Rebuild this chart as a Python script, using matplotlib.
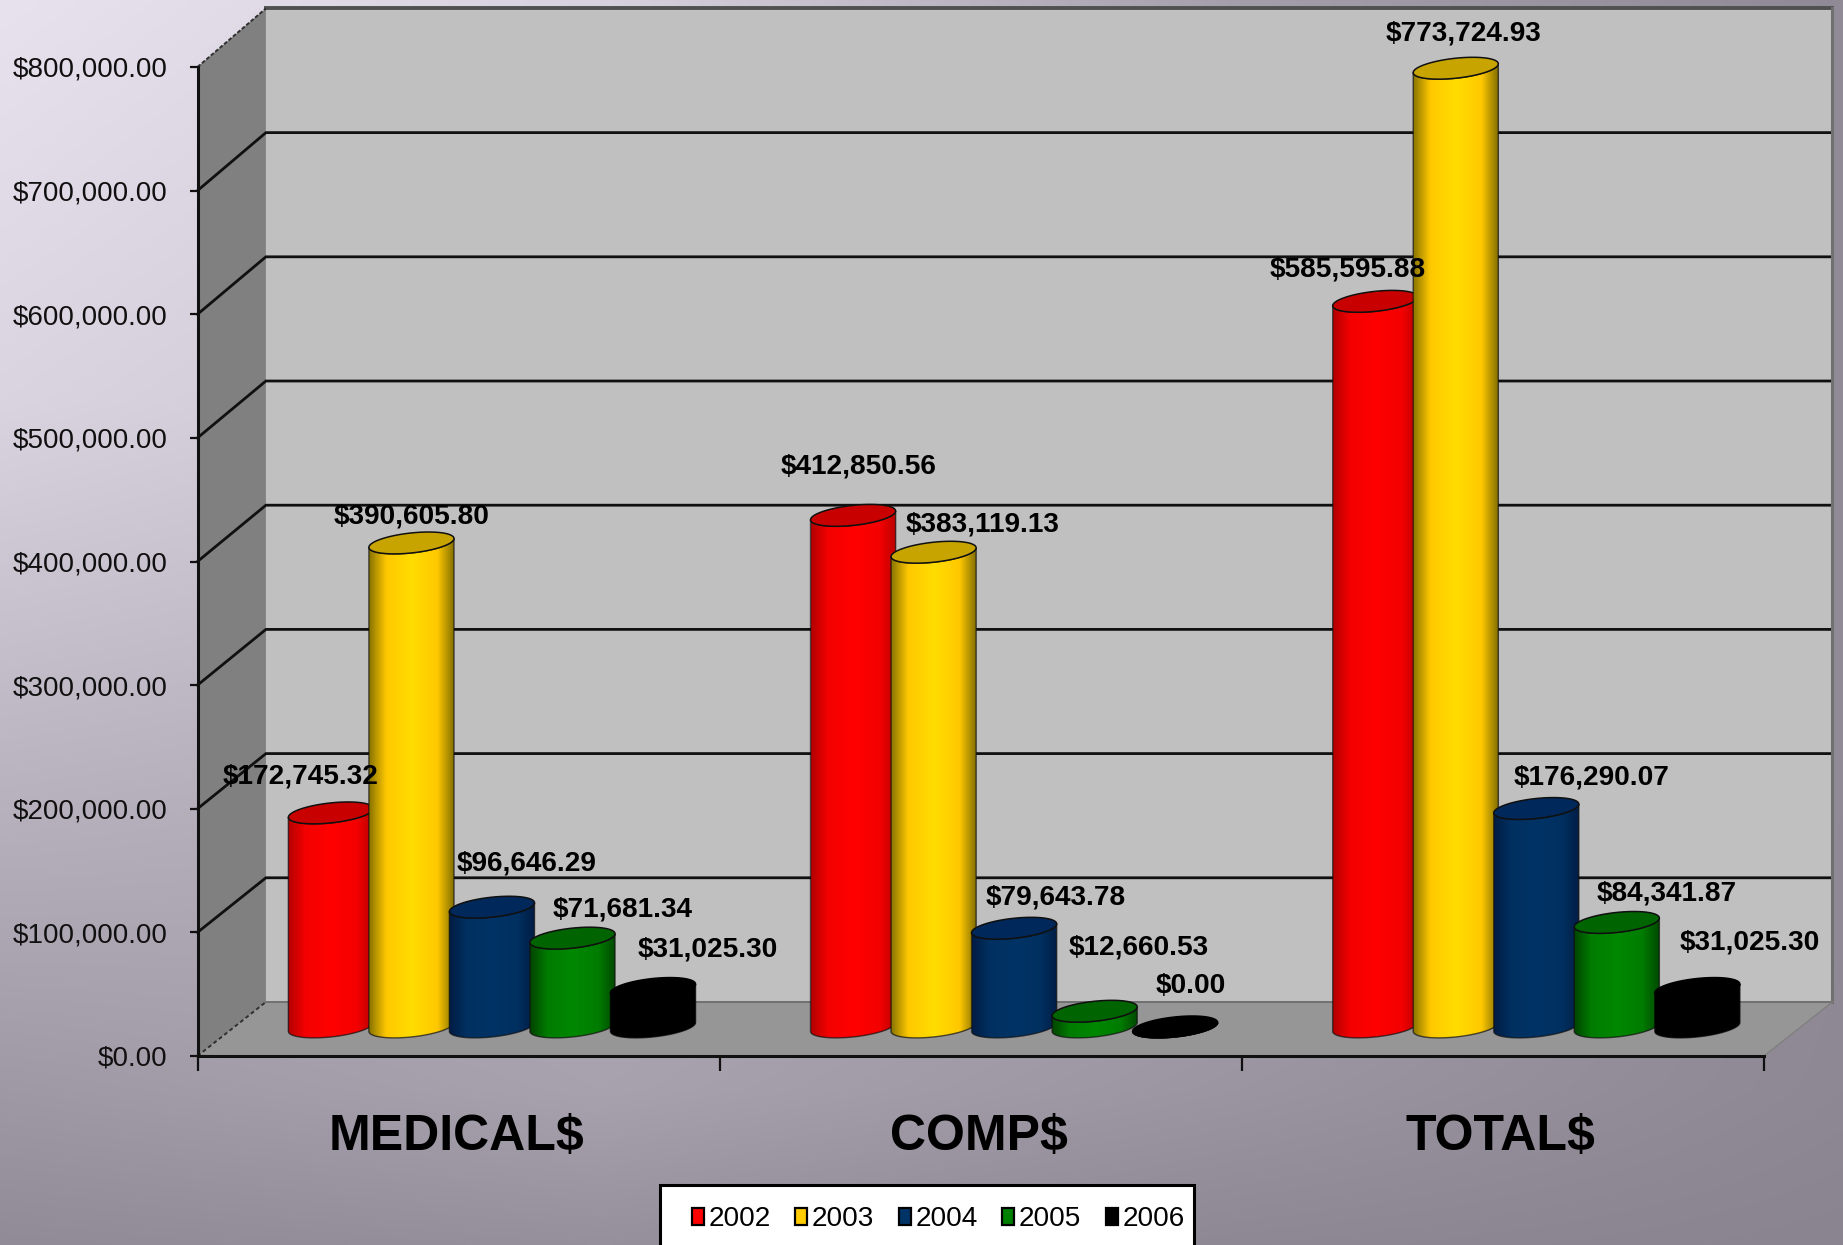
import numpy as np
import matplotlib
matplotlib.use('Agg')
import matplotlib.pyplot as plt
from matplotlib.colors import LinearSegmentedColormap
from matplotlib.patches import Polygon, Rectangle

plt.rcParams['font.family'] = ['Liberation Sans', 'DejaVu Sans']

categories = ['MEDICAL$', 'COMP$', 'TOTAL$']
years = ['2002', '2003', '2004', '2005', '2006']
medical = [172745.32, 390605.80, 96646.29, 71681.34, 31025.30]
comp = [412850.56, 383119.13, 79643.78, 12660.53, 0.00]
total = [585595.88, 773724.93, 176290.07, 84341.87, 31025.30]
yticks = [0, 100000, 200000, 300000, 400000, 500000, 600000, 700000, 800000]

# label shift from the top of each cylinder, in pixels
label_dx = [[-30, 0, 35, 50, 55], [5, 49, 42, 44, 16], [-28, 8, 55, 50, 52]]
label_dy = [[66, 57, 73, 58, 68], [79, 58, 60, 93, 70], [63, 66, 61, 58, 75]]

# (edge, base, bright, right edge, lid)
colors = [('#b40000', '#f40000', '#ff0000', '#b80000', '#c80000'),
          ('#8a7400', '#ffc800', '#ffdd00', '#7f6c00', '#c8a400'),
          ('#001c44', '#003060', '#003366', '#001c44', '#00285a'),
          ('#004400', '#007c00', '#008800', '#004800', '#006400'),
          ('#000000', '#000000', '#000000', '#000000', '#000000')]
legend_colors = ['#ff0000', '#ffcc00', '#003366', '#008000', '#000000']

W, H = 1843, 1245
YMAX = 800000
DEPTH_X = 0.131
DEPTH_Y = 43700.0
BACK_SCALE = 1.0046
FIRST_BAR = 0.174
BAR_STEP = 0.1542
BAR_W = 0.163
ELL_B = 8100.0
ELL_K = 3560.0
MID_Y = 23500.0

# backdrop brightness (red channel) on a coarse grid
BG_X = [0, 600, 1240, 1843]
BG_Y = [0, 400, 800, 1090, 1245]
BG_R = np.array([[232, 216, 164, 144],
                 [218, 204, 170, 144],
                 [184, 176, 168, 144],
                 [159, 168, 155, 142],
                 [145, 150, 142, 138]], dtype=float)


def back(v):
    return v * BACK_SCALE + DEPTH_Y


def ellipse_points(cx, cy, a, t):
    return cx + a * np.cos(t), cy + ELL_B * np.sin(t) + ELL_K * np.cos(t)


def cylinder(ax, left, value, cols, z):
    a = BAR_W / 2
    cx = left + a
    y0 = MID_Y
    y1 = value * (1 + (BACK_SCALE - 1) / 2) + MID_Y
    line = cols[0] if cols[0] == '#000000' else '#101010'
    # side of the cylinder
    t = np.linspace(0, -np.pi, 50)
    xb, yb = ellipse_points(cx, y0, a, t)
    xt, yt = ellipse_points(cx, y1, a, t[::-1])
    verts = np.column_stack([np.r_[xb, xt], np.r_[yb, yt]])
    body = Polygon(verts, closed=True, fc='none', ec='none', zorder=z, clip_on=False)
    ax.add_patch(body)
    cmap = LinearSegmentedColormap.from_list(
        'c', [(0, cols[0]), (0.2, cols[1]), (0.5, cols[2]), (0.8, cols[1]), (1, cols[3])])
    grad = np.linspace(0, 1, 128).reshape(1, -1)
    im = ax.imshow(grad, cmap=cmap, extent=(left, left + BAR_W, y0 - 20000, y1 + 20000),
                   aspect='auto', zorder=z, interpolation='bilinear')
    im.set_clip_path(body)
    im.set_clip_box(None)
    ax.add_patch(Polygon(verts, closed=True, fc='none', ec=line, lw=1.0, alpha=0.7,
                         zorder=z + 0.1, clip_on=False))
    # lid
    t = np.linspace(0, 2 * np.pi, 80)
    xl, yl = ellipse_points(cx, y1, a, t)
    ax.add_patch(Polygon(np.column_stack([xl, yl]), closed=True, fc=cols[4], ec=line, lw=1.1,
                         zorder=z + 0.2, clip_on=False))
    return cx


fig = plt.figure(figsize=(W / 100, H / 100), dpi=100)

# backdrop shading, lightest in the top left corner
bg = fig.add_axes([0, 0, 1, 1], zorder=-1)
bg.axis('off')
xs = np.arange(0, W, 4)
ys = np.arange(0, H, 4)
rows = np.array([np.interp(xs, BG_X, r) for r in BG_R])
red = np.array([np.interp(ys, BG_Y, rows[:, c]) for c in range(len(xs))]).T
img = np.clip(np.dstack([red, red - 6, red + 6]) / 255, 0, 1)
bg.imshow(img, aspect='auto', extent=(0, 1, 0, 1), interpolation='bilinear')

ax = fig.add_axes([197.5 / W, (H - 1056) / H, (1764 - 197.5) / W, (1056 - 67) / H])
ax.patch.set_visible(False)

n = len(categories)
top_b = back(YMAX)
low_b = back(0)

# walls and floor
ax.add_patch(Polygon([(DEPTH_X, low_b), (n + DEPTH_X, low_b), (n + DEPTH_X, top_b), (DEPTH_X, top_b)],
                     fc='#c0c0c0', ec='none', zorder=1, clip_on=False))
ax.add_patch(Polygon([(0, 0), (0, YMAX), (DEPTH_X, top_b), (DEPTH_X, low_b)],
                     fc='#808080', ec='none', zorder=1, clip_on=False))
ax.add_patch(Polygon([(0, 0), (n, 0), (n + DEPTH_X, low_b), (DEPTH_X, low_b)],
                     fc='#969696', ec='none', zorder=1.5, clip_on=False))

# gridlines across the side wall and the back wall
for v in yticks[1:-1]:
    ax.plot([0, DEPTH_X, n + DEPTH_X], [v, back(v), back(v)], color='#101010', lw=2.0,
            zorder=1.4, clip_on=False, solid_joinstyle='miter')
ax.plot([DEPTH_X, n + DEPTH_X], [top_b, top_b], color='#505050', lw=2.8, zorder=1.4, clip_on=False)
ax.plot([0, DEPTH_X], [YMAX, top_b], color='#303030', lw=1.4, ls=(0, (2, 1)), zorder=1.4, clip_on=False)
ax.plot([0, DEPTH_X], [0, low_b], color='#303030', lw=1.4, ls=(0, (2, 1.5)), zorder=1.6, clip_on=False)
ax.plot([DEPTH_X, n + DEPTH_X], [low_b, low_b], color='#707070', lw=1.4, zorder=1.6, clip_on=False)
ax.plot([n, n + DEPTH_X], [0, low_b], color='#808080', lw=1.0, zorder=1.6, clip_on=False)
ax.plot([n + DEPTH_X, n + DEPTH_X], [low_b, top_b], color='#707070', lw=2.2, zorder=1.4, clip_on=False)

# cylinders, later years sitting over earlier ones
for i, vals in enumerate([medical, comp, total]):
    for j, v in enumerate(vals):
        left = i + FIRST_BAR + j * BAR_STEP
        cx = cylinder(ax, left, v, colors[j], 3 + i + j * 0.25)
        ax.annotate(f'${v:,.2f}', xy=(cx, v), xytext=(label_dx[i][j], label_dy[i][j]),
                    xycoords='data', textcoords='offset pixels', ha='center', va='center',
                    fontsize=20.2, fontweight='bold', color='black', zorder=20,
                    annotation_clip=False)

ax.set_xlim(0, n)
ax.set_ylim(0, YMAX)
ax.set_yticks(yticks)
ax.set_yticklabels([f'${v:,.2f}' for v in yticks], fontsize=20, color='#101010')
ax.tick_params(axis='y', length=6, width=1.6, pad=15.6, color='#101010')
ax.set_xticks(range(n + 1))
ax.set_xticklabels([])
ax.tick_params(axis='x', which='major', length=11, width=1.6, color='#101010')
ax.set_xticks(np.arange(n) + 0.5 - 0.004, minor=True)
ax.set_xticklabels(categories, minor=True, fontsize=36, fontweight='bold')
ax.tick_params(axis='x', which='minor', length=0, pad=42)
for s in ['top', 'right']:
    ax.spines[s].set_visible(False)
for s in ['left', 'bottom']:
    ax.spines[s].set_linewidth(2.2)
    ax.spines[s].set_color('#101010')
    ax.spines[s].set_zorder(2.5)

# legend box runs off the bottom edge of the figure
fig.add_artist(Rectangle((660 / W, -30 / H), 534 / W, (H - 1185 + 30) / H, transform=fig.transFigure,
                         fc='white', ec='black', lw=2.2, zorder=4))
handles = [Rectangle((0, 0), 1, 1, fc=c, ec='black', lw=1.6) for c in legend_colors]
fig.legend(handles, years, loc='upper left', bbox_to_anchor=(691.5 / W, 1 - 1206 / H),
           bbox_transform=fig.transFigure, ncols=5, fontsize=20.2, frameon=False,
           borderpad=0, borderaxespad=0, handlelength=0.43, handleheight=0.55,
           handletextpad=0.17, columnspacing=0.87)

fig.savefig('out.png', dpi=100)
